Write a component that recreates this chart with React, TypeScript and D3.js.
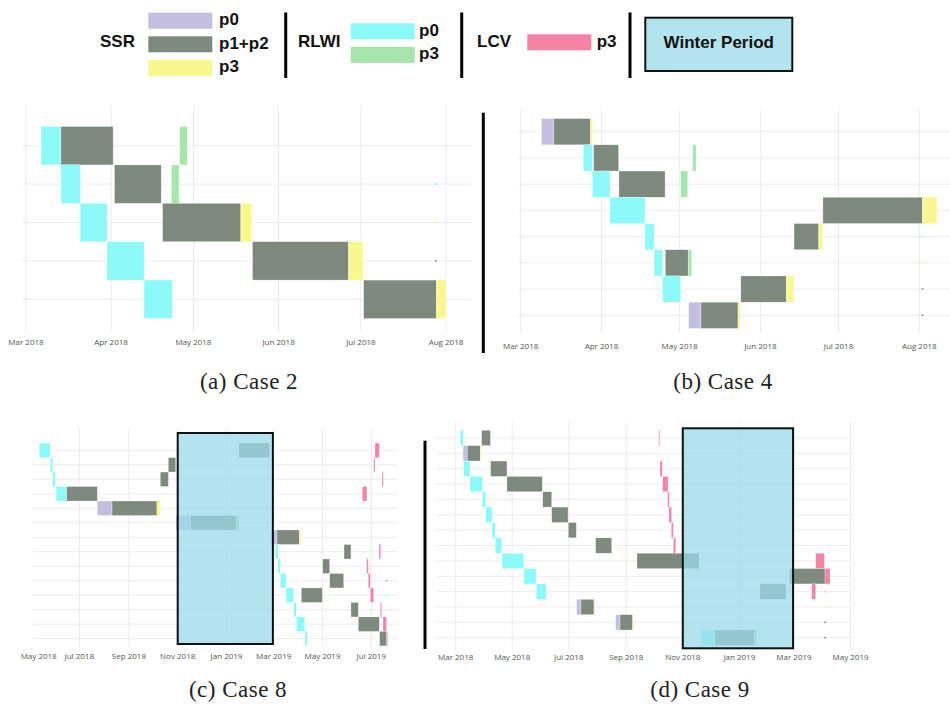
import { max, range, scaleBand, scaleTime, timeFormat, timeParse } from "d3";

type Phase = "ssr0" | "ssr12" | "ssr3" | "rlwi0" | "rlwi3" | "lcv3";
// [row, phase, start, end]
type Task = [number, Phase, string, string];
// [row, phase, date] for zero-length marks
type Dot = [number, Phase, string];

const phaseColors: Record<Phase, string> = {
  ssr0: "#c4bee0",
  ssr12: "#7f8a7f",
  ssr3: "#f9f88e",
  rlwi0: "#8bfaf8",
  rlwi3: "#a6e6aa",
  lcv3: "#f384a8"
};

const caseTwoTasks: Task[] = [
  [0, "rlwi0", "2018-03-06T12", "2018-03-13T18"],
  [0, "ssr12", "2018-03-13T18", "2018-04-01T18"],
  [0, "rlwi3", "2018-04-26", "2018-04-28T18"],
  [1, "rlwi0", "2018-03-13T18", "2018-03-20T18"],
  [1, "ssr12", "2018-04-02T06", "2018-04-19T06"],
  [1, "rlwi3", "2018-04-23", "2018-04-25T18"],
  [2, "rlwi0", "2018-03-20T18", "2018-03-30T12"],
  [2, "ssr12", "2018-04-19T18", "2018-05-18T06"],
  [2, "ssr3", "2018-05-18T06", "2018-05-22T06"],
  [3, "rlwi0", "2018-03-30T12", "2018-04-13"],
  [3, "ssr12", "2018-05-22T12", "2018-06-26T12"],
  [3, "ssr3", "2018-06-26T12", "2018-07-01T18"],
  [4, "rlwi0", "2018-04-13", "2018-04-23T06"],
  [4, "ssr12", "2018-07-02", "2018-07-28T12"],
  [4, "ssr3", "2018-07-28T12", "2018-08-01"]
];
const caseTwoDots: Dot[] = [
  [1, "rlwi0", "2018-07-28T06"],
  [2, "ssr3", "2018-07-28T06"],
  [3, "ssr12", "2018-07-28T06"]
];

const caseFourTasks: Task[] = [
  [0, "ssr0", "2018-03-09", "2018-03-13T18"],
  [0, "ssr12", "2018-03-13T18", "2018-03-27T18"],
  [0, "ssr3", "2018-03-27T18", "2018-03-28T14"],
  [1, "rlwi0", "2018-03-25", "2018-03-28T12"],
  [1, "ssr12", "2018-03-29", "2018-04-07T14"],
  [1, "rlwi3", "2018-05-06", "2018-05-07T07"],
  [2, "rlwi0", "2018-03-28T12", "2018-04-04T07"],
  [2, "ssr12", "2018-04-07T17", "2018-04-25T10"],
  [2, "rlwi3", "2018-05-01T10", "2018-05-04T02"],
  [3, "rlwi0", "2018-04-04T07", "2018-04-17T17"],
  [3, "ssr12", "2018-06-25", "2018-08-02T05"],
  [3, "ssr3", "2018-08-02T05", "2018-08-07T19"],
  [4, "rlwi0", "2018-04-17T17", "2018-04-21T05"],
  [4, "ssr12", "2018-06-13T22", "2018-06-23T10"],
  [4, "ssr3", "2018-06-23T10", "2018-06-24T22"],
  [5, "rlwi0", "2018-04-21T05", "2018-04-24T12"],
  [5, "ssr12", "2018-04-25T12", "2018-05-04T07"],
  [5, "rlwi3", "2018-05-04T07", "2018-05-05T14"],
  [6, "rlwi0", "2018-04-24T12", "2018-05-01T10"],
  [6, "ssr12", "2018-05-24T12", "2018-06-11"],
  [6, "ssr3", "2018-06-11", "2018-06-13T19"],
  [7, "ssr0", "2018-05-04T12", "2018-05-09T05"],
  [7, "ssr12", "2018-05-09T05", "2018-05-23T10"],
  [7, "ssr3", "2018-05-23T10", "2018-05-24T05"]
];
const caseFourDots: Dot[] = [
  [4, "rlwi0", "2018-08-02T05"],
  [5, "ssr3", "2018-08-02T05"],
  [6, "ssr12", "2018-08-02T05"],
  [7, "ssr12", "2018-08-02T05"]
];

const caseEightTasks: Task[] = [
  [0, "rlwi0", "2018-05-12", "2018-05-25T18"],
  [0, "ssr12", "2019-01-16T14", "2019-02-24"],
  [0, "lcv3", "2019-07-05T14", "2019-07-11"],
  [1, "rlwi0", "2018-05-25T18", "2018-05-28T18"],
  [1, "ssr12", "2018-10-20T07", "2018-10-29T12"],
  [1, "lcv3", "2019-07-04", "2019-07-05T14"],
  [2, "rlwi0", "2018-05-28T18", "2018-06-01"],
  [2, "ssr12", "2018-10-10T07", "2018-10-20T07"],
  [2, "lcv3", "2019-07-14T10", "2019-07-16"],
  [3, "rlwi0", "2018-06-02", "2018-06-15T06"],
  [3, "ssr12", "2018-06-15T06", "2018-07-23T12"],
  [3, "lcv3", "2019-06-19T18", "2019-06-25T14"],
  [4, "ssr0", "2018-07-23T12", "2018-08-10T22"],
  [4, "ssr12", "2018-08-10T22", "2018-10-06T02"],
  [4, "ssr3", "2018-10-06T02", "2018-10-10T07"],
  [5, "ssr0", "2018-10-29T22", "2018-11-17T06"],
  [5, "ssr12", "2018-11-17T06", "2019-01-12T22"],
  [5, "rlwi3", "2019-01-12T22", "2019-01-16T14"],
  [6, "ssr0", "2019-02-25T14", "2019-03-05T02"],
  [6, "ssr12", "2019-03-05T02", "2019-04-02"],
  [6, "ssr3", "2019-04-02", "2019-04-04T02"],
  [7, "rlwi0", "2019-03-03", "2019-03-06T10"],
  [7, "ssr12", "2019-05-27T22", "2019-06-05T14"],
  [7, "lcv3", "2019-07-10T14", "2019-07-12T19"],
  [8, "rlwi0", "2019-03-06T10", "2019-03-09T06"],
  [8, "ssr12", "2019-05-01T06", "2019-05-10"],
  [8, "lcv3", "2019-06-25T05", "2019-06-27T06"],
  [9, "rlwi0", "2019-03-09T06", "2019-03-16T10"],
  [9, "ssr12", "2019-05-10", "2019-05-27T12"],
  [9, "lcv3", "2019-06-27T06", "2019-06-29T18"],
  [10, "rlwi0", "2019-03-16T10", "2019-03-26"],
  [10, "ssr12", "2019-04-04T12", "2019-04-30T18"],
  [10, "lcv3", "2019-06-29T18", "2019-07-04"],
  [11, "rlwi0", "2019-03-26", "2019-03-29T06"],
  [11, "ssr12", "2019-06-05T14", "2019-06-14T18"],
  [11, "lcv3", "2019-07-12T07", "2019-07-14"],
  [12, "rlwi0", "2019-03-29T18", "2019-04-08T18"],
  [12, "ssr12", "2019-06-14T18", "2019-07-11"],
  [12, "lcv3", "2019-07-15T14", "2019-07-20"],
  [13, "rlwi0", "2019-04-09T02", "2019-04-12"],
  [13, "ssr12", "2019-07-11T10", "2019-07-20T06"],
  [13, "lcv3", "2019-07-20T06", "2019-07-21T12"]
];
const caseEightDots: Dot[] = [
  [9, "lcv3", "2019-07-20"],
  [10, "rlwi0", "2019-07-20"],
  [11, "ssr3", "2019-07-20"]
];

const caseNineTasks: Task[] = [
  [0, "rlwi0", "2018-03-06", "2018-03-09T05"],
  [0, "ssr12", "2018-03-29", "2018-04-07T10"],
  [0, "lcv3", "2018-10-06", "2018-10-07T02"],
  [1, "ssr0", "2018-03-08T22", "2018-03-13T12"],
  [1, "ssr12", "2018-03-13T12", "2018-03-27T12"],
  [1, "ssr3", "2018-03-27T12", "2018-03-28T07"],
  [2, "rlwi0", "2018-03-09T14", "2018-03-16T10"],
  [2, "ssr12", "2018-04-07T17", "2018-04-25T07"],
  [2, "lcv3", "2018-10-07T10", "2018-10-09T22"],
  [3, "rlwi0", "2018-03-16T10", "2018-03-29T17"],
  [3, "ssr12", "2018-04-25T07", "2018-06-02T10"],
  [3, "lcv3", "2018-10-10T07", "2018-10-16T02"],
  [4, "rlwi0", "2018-03-29T17", "2018-04-02T10"],
  [4, "ssr12", "2018-06-02T22", "2018-06-12T14"],
  [4, "lcv3", "2018-10-15T17", "2018-10-17T12"],
  [5, "rlwi0", "2018-04-02T10", "2018-04-09T05"],
  [5, "ssr12", "2018-06-12T14", "2018-06-30T05"],
  [5, "lcv3", "2018-10-17T02", "2018-10-20T02"],
  [6, "rlwi0", "2018-04-09T05", "2018-04-12T17"],
  [6, "ssr12", "2018-06-30T12", "2018-07-09T02"],
  [6, "lcv3", "2018-10-19T14", "2018-10-21T19"],
  [7, "rlwi0", "2018-04-12T17", "2018-04-19T14"],
  [7, "ssr12", "2018-07-30", "2018-08-16T07"],
  [7, "lcv3", "2018-10-21T19", "2018-10-24T10"],
  [8, "rlwi0", "2018-04-20", "2018-05-13T10"],
  [8, "ssr12", "2018-09-12T14", "2018-11-18T14"],
  [8, "lcv3", "2019-03-24T10", "2019-04-02T17"],
  [9, "rlwi0", "2018-05-13T17", "2018-05-26T14"],
  [9, "ssr12", "2019-02-24", "2019-04-03T12"],
  [9, "lcv3", "2019-04-03T12", "2019-04-08T22"],
  [10, "rlwi0", "2018-05-27", "2018-06-06T10"],
  [10, "ssr12", "2019-01-23T07", "2019-02-20T10"],
  [10, "lcv3", "2019-03-20T02", "2019-03-24T10"],
  [11, "ssr0", "2018-07-09T12", "2018-07-14T05"],
  [11, "ssr12", "2018-07-14T05", "2018-07-28T05"],
  [11, "ssr3", "2018-07-28T05", "2018-07-29"],
  [12, "ssr0", "2018-08-20T14", "2018-08-25T07"],
  [12, "ssr12", "2018-08-25T07", "2018-09-08"],
  [12, "ssr3", "2018-09-08", "2018-09-08T14"],
  [13, "rlwi0", "2018-11-21T10", "2018-12-05T19"],
  [13, "ssr12", "2018-12-05T19", "2019-01-17T05"],
  [13, "rlwi3", "2019-01-17T05", "2019-01-19T19"]
];
const caseNineDots: Dot[] = [
  [10, "rlwi3", "2019-04-03T12"],
  [11, "ssr3", "2019-04-03T12"],
  [12, "ssr12", "2019-04-03T12"],
  [13, "ssr12", "2019-04-03T12"]
];

const monthlyTicks = ["2018-03-01", "2018-04-01", "2018-05-01", "2018-06-01", "2018-07-01", "2018-08-01"];
const caseEightTicks = ["2018-05-01", "2018-07-01", "2018-09-01", "2018-11-01", "2019-01-01", "2019-03-01", "2019-05-01", "2019-07-01"];
const caseNineTicks = ["2018-03-01", "2018-05-01", "2018-07-01", "2018-09-01", "2018-11-01", "2019-01-01", "2019-03-01", "2019-05-01"];

const winterPeriod: [string, string] = ["2018-11-01", "2019-02-28"];

const legendGroups: { label: string; items: [Phase, string][] }[] = [
  { label: "SSR", items: [["ssr0", "p0"], ["ssr12", "p1+p2"], ["ssr3", "p3"]] },
  { label: "RLWI", items: [["rlwi0", "p0"], ["rlwi3", "p3"]] },
  { label: "LCV", items: [["lcv3", "p3"]] }
];

const parseDay = timeParse("%Y-%m-%d");
const parseHour = timeParse("%Y-%m-%dT%H");
const toDate = (s: string) => (s.length > 10 ? parseHour(s) : parseDay(s)) as Date;
const formatTick = timeFormat("%b %Y");

const winterFill = "#99d9ea";
const gridColor = "#ececec";
const legendFont = "'Liberation Sans', Arial, sans-serif";

type PanelLayout = {
  caption: string;
  captionX: number;
  captionY: number;
  domain: [string, string];
  range: [number, number];
  gridX: [number, number];
  gridY: [number, number];
  band: [number, number];
  labelY: number;
  winterY?: [number, number];
  separator?: [number, number, number];
};

const panelLayouts: PanelLayout[] = [
  {
    caption: "(a) Case 2", captionX: 249, captionY: 389,
    domain: ["2018-03-01", "2018-08-01"], range: [26, 446],
    gridX: [21.7, 471.7], gridY: [105, 332], band: [126.5, 318.5], labelY: 343
  },
  {
    caption: "(b) Case 4", captionX: 723, captionY: 389,
    domain: ["2018-03-01", "2018-08-01"], range: [520.7, 919.3],
    gridX: [518.3, 950], gridY: [110, 333], band: [118.6, 328.4], labelY: 347,
    separator: [483.3, 112.7, 353]
  },
  {
    caption: "(c) Case 8", captionX: 238, captionY: 697,
    domain: ["2018-07-01", "2019-07-01"], range: [79.3, 371.3],
    gridX: [32.7, 398], gridY: [428, 647], band: [443.05, 645.9], labelY: 657,
    winterY: [433, 644]
  },
  {
    caption: "(d) Case 9", captionX: 700, captionY: 697,
    domain: ["2018-03-01", "2019-03-01"], range: [455.7, 794],
    gridX: [436.7, 851], gridY: [422, 650], band: [430.3, 645.4], labelY: 658,
    winterY: [428.3, 648.3],
    separator: [425, 440.7, 649]
  }
];

type GanttPanelProps = {
  layout: PanelLayout;
  tasks: Task[];
  dots: Dot[];
  ticks: string[];
};

function GanttPanel({ layout, tasks, dots, ticks }: GanttPanelProps) {
  const x = scaleTime()
    .domain(layout.domain.map(toDate))
    .range(layout.range);
  const rowCount = (max(tasks, (t) => t[0]) ?? 0) + 1;
  const y = scaleBand<number>().domain(range(rowCount)).range(layout.band);
  const half = y.bandwidth() / 2;

  return (
    <g>
      {ticks.map((t) => {
        const tx = x(toDate(t));
        if (tx < layout.gridX[0]) {
          return null;
        }
        return (
          <line
            key={`g-${t}`}
            x1={tx}
            x2={tx}
            y1={layout.gridY[0]}
            y2={layout.gridY[1]}
            stroke={gridColor}
            strokeWidth={1}
          />
        );
      })}
      {y.domain().map((r) => (
        <line
          key={`r-${r}`}
          x1={layout.gridX[0]}
          x2={layout.gridX[1]}
          y1={(y(r) ?? 0) + half}
          y2={(y(r) ?? 0) + half}
          stroke={gridColor}
          strokeWidth={1}
        />
      ))}
      {tasks.map(([row, phase, start, end], i) => {
        const x0 = x(toDate(start));
        const x1 = x(toDate(end));
        return (
          <rect
            key={`t-${i}`}
            x={x0}
            y={y(row)}
            width={Math.max(0.8, x1 - x0)}
            height={y.bandwidth()}
            fill={phaseColors[phase]}
            stroke="#ffffff"
            strokeOpacity={0.55}
            strokeWidth={0.5}
          />
        );
      })}
      {dots.map(([row, phase, date], i) => (
        <rect
          key={`d-${i}`}
          x={x(toDate(date)) - 0.8}
          y={(y(row) ?? 0) + half - 0.8}
          width={1.6}
          height={1.6}
          fill={phaseColors[phase]}
        />
      ))}
      {layout.winterY ? (
        <rect
          x={x(toDate(winterPeriod[0]))}
          y={layout.winterY[0]}
          width={x(toDate(winterPeriod[1])) - x(toDate(winterPeriod[0]))}
          height={layout.winterY[1] - layout.winterY[0]}
          fill={winterFill}
          fillOpacity={0.75}
          stroke="#111"
          strokeWidth={2}
        />
      ) : null}
      {ticks.map((t) => {
        const tx = x(toDate(t));
        const lx = tx < layout.gridX[0] ? layout.gridX[0] + 6 : tx;
        return (
          <text
            key={`l-${t}`}
            x={lx}
            y={layout.labelY}
            textAnchor="middle"
            dominantBaseline="middle"
            fontFamily="'Open Sans', sans-serif"
            fontSize={8}
            fill="#555"
          >
            {formatTick(toDate(t))}
          </text>
        );
      })}
      {layout.separator ? (
        <line
          x1={layout.separator[0]}
          x2={layout.separator[0]}
          y1={layout.separator[1]}
          y2={layout.separator[2]}
          stroke="#000"
          strokeWidth={3}
        />
      ) : null}
      <text
        x={layout.captionX}
        y={layout.captionY}
        textAnchor="middle"
        fontFamily="'Liberation Serif', 'Times New Roman', serif"
        fontSize={23}
        letterSpacing={0.5}
        fill="#222"
      >
        {layout.caption}
      </text>
    </g>
  );
}

// legend geometry per group: label x, swatch x, label-of-item x, first swatch top
const legendPlacement = [
  { labelX: 100, swatchX: 148.3, textX: 219, top: 12.7 },
  { labelX: 298, swatchX: 350.7, textX: 419, top: 23.3 },
  { labelX: 477, swatchX: 527.3, textX: 596.7, top: 34.3 }
];
const legendSeparators = [285.7, 461.7, 630];
const swatchW = 64;
const swatchH = 16;
const swatchStep = 23.6;

function Legend() {
  return (
    <g fontFamily={legendFont} fontWeight="bold" fontSize={17} fill="#111">
      {legendGroups.map((group, gi) => {
        const p = legendPlacement[gi];
        return (
          <g key={group.label}>
            <text x={p.labelX} y={43} dominantBaseline="middle">
              {group.label}
            </text>
            {group.items.map(([phase, name], i) => {
              const top = p.top + i * swatchStep;
              return (
                <g key={name + phase}>
                  <rect
                    x={p.swatchX}
                    y={top}
                    width={swatchW}
                    height={swatchH}
                    fill={phaseColors[phase]}
                  />
                  <text x={p.textX} y={top + swatchH / 2} dominantBaseline="middle">
                    {name}
                  </text>
                </g>
              );
            })}
          </g>
        );
      })}
      {legendSeparators.map((sx) => (
        <line key={sx} x1={sx} x2={sx} y1={12.5} y2={78} stroke="#000" strokeWidth={3} />
      ))}
      <rect x={645.3} y={17.7} width={147} height={53.3} fill="#ffffff" />
      <rect
        x={645.3}
        y={17.7}
        width={147}
        height={53.3}
        fill={winterFill}
        fillOpacity={0.75}
        stroke="#111"
        strokeWidth={2}
      />
      <text x={718.8} y={44} textAnchor="middle" dominantBaseline="middle">
        Winter Period
      </text>
    </g>
  );
}

const panelData = [
  { tasks: caseTwoTasks, dots: caseTwoDots, ticks: monthlyTicks },
  { tasks: caseFourTasks, dots: caseFourDots, ticks: monthlyTicks },
  { tasks: caseEightTasks, dots: caseEightDots, ticks: caseEightTicks },
  { tasks: caseNineTasks, dots: caseNineDots, ticks: caseNineTicks }
];

export default function App() {
  return (
    <svg
      width={950}
      height={705}
      style={{ position: "absolute", left: 0, top: 0, background: "#fff" }}
    >
      <rect x={0} y={0} width={950} height={705} fill="#fff" />
      <Legend />
      {panelLayouts.map((layout, i) => (
        <GanttPanel
          key={layout.caption}
          layout={layout}
          tasks={panelData[i].tasks}
          dots={panelData[i].dots}
          ticks={panelData[i].ticks}
        />
      ))}
    </svg>
  );
}
